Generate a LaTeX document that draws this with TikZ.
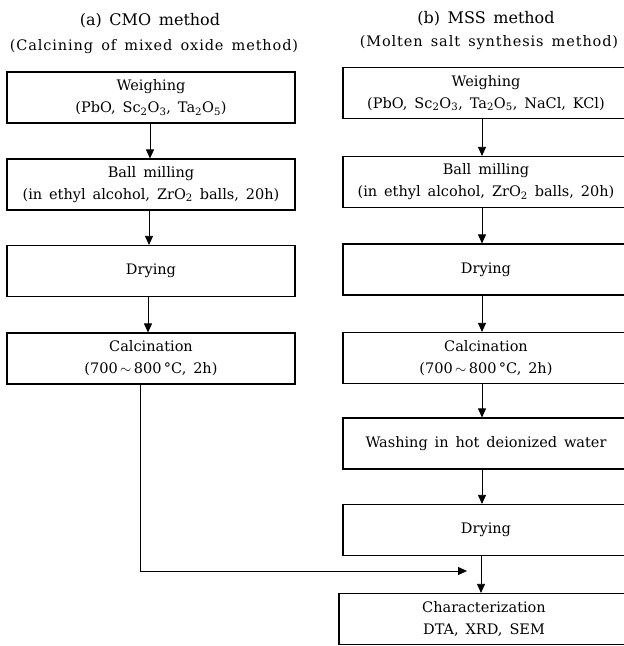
\documentclass[tikz,border=0pt]{standalone}
\usepackage{fontspec}
\setmainfont{DejaVu Serif}[WordSpace=1.5]
\usetikzlibrary{arrows.meta,calc}
\newcommand{\sbs}[1]{\textsubscript{#1}}
\tikzset{
  stepbox/.style={draw, line width=1.1pt, minimum height=51pt, align=center, inner sep=0pt,
    font=\fontsize{14.5}{22}\selectfont},
  lbox/.style={stepbox, minimum width=288pt},
  rbox/.style={stepbox, minimum width=286pt},
  arr/.style={line width=0.8pt, -{Triangle[length=9pt,width=8pt]}},
  ttl/.style={font=\fontsize{16}{20}\selectfont, inner sep=0pt},
  sttl/.style={font=\fontsize{14.5}{20}\selectfont\addfontfeature{LetterSpace=6}, inner sep=0pt},
}
\begin{document}
\begin{tikzpicture}[x=1pt,y=1pt]
\useasboundingbox (0,0) rectangle (624,646);
\clip (0,0) rectangle (624,646);
% titles
\node[ttl] (ta) at (150,625) {(a) CMO method};
\node[ttl] (tb) at (486,627) {(b) MSS method};
\node[sttl] (tas) at (154,599) {(Calcining of mixed oxide method)};
\node[sttl] (tbs) at (489,603) {(Molten salt synthesis method)};
% left column
\node[lbox] (L1) at (151,548.5) {Weighing\\(PbO, Sc\sbs{2}O\sbs{3}, Ta\sbs{2}O\sbs{5})};
\node[lbox] (L2) at (151,461.5) {Ball milling\\(in ethyl alcohol, ZrO\sbs{2} balls, 20h)};
\node[lbox] (L3) at (151,375) {Drying};
\node[lbox] (L4) at (151,287.5) {Calcination\\(700\,$\sim$\,800\,°C, 2h)};
% right column
\node[rbox] (R1) at (486,553) {Weighing\\(PbO, Sc\sbs{2}O\sbs{3}, Ta\sbs{2}O\sbs{5}, NaCl, KCl)};
\node[rbox] (R2) at (486,464) {Ball milling\\(in ethyl alcohol, ZrO\sbs{2} balls, 20h)};
\node[rbox] (R3) at (486,376.5) {Drying};
\node[rbox] (R4) at (486,288) {Calcination\\(700\,$\sim$\,800\,°C, 2h)};
\node[rbox] (R5) at (486,202.5) {Washing in hot deionized water};
\node[rbox] (R6) at (486,116) {Drying};
\node[rbox, minimum width=290pt] (R7) at (484,27) {Characterization\\DTA, XRD, SEM};
\coordinate (J) at (467,75);
% arrows left
\draw[arr] ([xshift=-1pt]L1.south) -- ([xshift=-1pt]L2.north);
\draw[arr] ([xshift=-2pt]L2.south) -- ([xshift=-2pt]L3.north);
\draw[arr] ([xshift=-3pt]L3.south) -- ([xshift=-3pt]L4.north);
\draw[arr] ([xshift=-11pt]L4.south) |- (J);
% arrows right
\draw[arr] ([xshift=-4pt]R1.south) -- ([xshift=-4pt]R2.north);
\draw[arr] ([xshift=-4pt]R2.south) -- ([xshift=-4pt]R3.north);
\draw[arr] ([xshift=-4pt]R3.south) -- ([xshift=-4pt]R4.north);
\draw[arr] ([xshift=-4pt]R4.south) -- ([xshift=-4pt]R5.north);
\draw[arr] ([xshift=-4pt]R5.south) -- ([xshift=-4pt]R6.north);
\draw[arr] ([xshift=-5pt]R6.south) -- ([xshift=-3pt]R7.north);
\end{tikzpicture}
\end{document}
